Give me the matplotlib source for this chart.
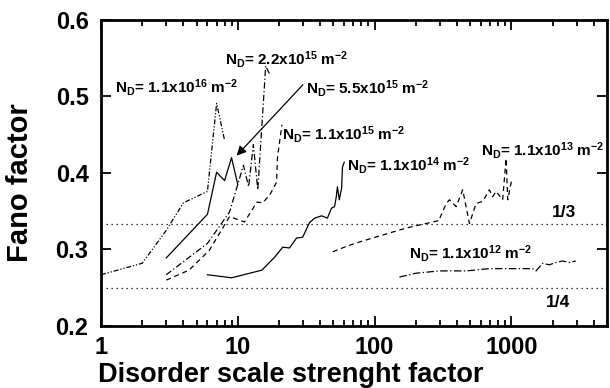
import numpy as np
import matplotlib
matplotlib.use('Agg')
from matplotlib import pyplot as plt

plt.rcParams['font.family'] = 'Liberation Sans'
plt.rcParams['font.weight'] = 'bold'
plt.rcParams['mathtext.fontset'] = 'custom'
plt.rcParams['mathtext.rm'] = 'Liberation Sans:bold'
plt.rcParams['mathtext.it'] = 'Liberation Sans:bold'
plt.rcParams['mathtext.bf'] = 'Liberation Sans:bold'

# N_D = 1.1e16
x16 = [1, 2, 3, 4, 6, 7, 8]
y16 = [0.267, 0.282, 0.325, 0.361, 0.376, 0.491, 0.443]
# N_D = 5.5e15
x55 = [3, 6, 7, 8, 9, 10]
y55 = [0.289, 0.346, 0.401, 0.39, 0.42, 0.385]
# N_D = 2.2e15
x22 = [3, 6, 8.7, 11, 12, 13, 14, 16, 17]
y22 = [0.267, 0.308, 0.349, 0.41, 0.382, 0.437, 0.378, 0.54, 0.53]
# N_D = 1.1e15
x15 = [3, 4.4, 6.2, 8.7, 11.2, 13.8, 15.2, 17.1, 19.2, 19.5, 21]
y15 = [0.26, 0.273, 0.299, 0.343, 0.336, 0.362, 0.361, 0.371, 0.388, 0.42, 0.463]
# N_D = 1.1e14
x14 = [6, 9, 15, 18.6, 21.3, 23.9, 26.9, 29.8, 33.4, 36.5, 41, 45.2, 48.4, 51,
       52.5, 53.5, 55.2, 57.4, 58.3, 60]
y14 = [0.267, 0.263, 0.273, 0.29, 0.303, 0.302, 0.315, 0.316, 0.335, 0.341, 0.344,
       0.341, 0.354, 0.356, 0.369, 0.382, 0.365, 0.38, 0.408, 0.414]
# N_D = 1.1e13
x13 = [49.5, 62, 78, 115, 170, 238, 298, 300, 334, 353, 395, 441, 494, 552, 618,
       691, 731, 773, 864, 915, 941, 1000]
y13 = [0.297, 0.304, 0.31, 0.319, 0.328, 0.334, 0.338, 0.341, 0.36, 0.365, 0.356,
       0.378, 0.334, 0.36, 0.363, 0.378, 0.369, 0.376, 0.365, 0.419, 0.365, 0.389]
# N_D = 1.1e12
x12 = [152, 201, 298, 467, 691, 1023, 1430, 1514, 1693, 1893, 2118, 2367, 2650, 2964]
y12 = [0.264, 0.269, 0.272, 0.272, 0.275, 0.275, 0.275, 0.272, 0.282, 0.28, 0.283,
       0.285, 0.283, 0.285]

fig = plt.figure(figsize=(6.1, 3.88), dpi=100)
ax = fig.add_axes([0.1656, 0.1598, 0.8294, 0.7887])

lw = 0.9
ax.plot(x16, y16, color='k', lw=lw, ls=(0, (4, 1.5, 1, 1.5, 1, 1.5)))
ax.plot(x55, y55, color='k', lw=lw, ls='-')
ax.plot(x22, y22, color='k', lw=lw, ls=(0, (5, 2, 1, 2)))
ax.plot(x15, y15, color='k', lw=lw, ls=(0, (4, 3)))
ax.plot(x14, y14, color='k', lw=lw, ls='-')
ax.plot(x13, y13, color='k', lw=lw, ls=(0, (4, 3)))
ax.plot(x12, y12, color='k', lw=lw, ls=(0, (6, 2, 1, 2)))

ax.axhline(1/3, color='k', lw=0.9, ls=(0, (1, 3)))
ax.axhline(1/4, color='k', lw=0.9, ls=(0, (1, 3)))

ax.set_xscale('log')
ax.set_xlim(1, 5000)
ax.set_ylim(0.2, 0.6)
ax.set_yticks([0.2, 0.3, 0.4, 0.5, 0.6])
ax.set_xticks([1, 10, 100, 1000])
ax.set_xticklabels(['1', '10', '100', '1000'])
ax.set_yticklabels(['0.2', '0.3', '0.4', '0.5', '0.6'])
ax.tick_params(which='both', direction='in', top=True, right=True, width=1.3)
ax.tick_params(which='major', length=7, labelsize=17)
ax.tick_params(axis='x', which='major', pad=7)
ax.tick_params(axis='y', which='major', pad=9)
ax.tick_params(which='minor', length=4)
ax.tick_params(axis='y', which='minor', left=False, right=False)
for s in ax.spines.values():
    s.set_linewidth(2)

ax.set_xlabel('Disorder scale strenght factor', fontsize=19.5, fontweight='bold')
ax.set_ylabel('Fano factor', fontsize=21, fontweight='bold')
ax.xaxis.set_label_coords(0.375, -0.118)
ax.yaxis.set_label_coords(-0.133, 0.467)

fs = 11
ax.text(1.27, 0.512, r'N$_\mathrm{D}$= 1.1x10$^{16}$ m$^{-2}$', fontsize=fs, va='center')
ax.text(8.1, 0.548, r'N$_\mathrm{D}$= 2.2x10$^{15}$ m$^{-2}$', fontsize=fs, va='center')
ax.text(31.5, 0.51, r'N$_\mathrm{D}$= 5.5x10$^{15}$ m$^{-2}$', fontsize=fs, va='center')
ax.text(20.9, 0.45, r'N$_\mathrm{D}$= 1.1x10$^{15}$ m$^{-2}$', fontsize=fs, va='center')
ax.text(62.8, 0.41, r'N$_\mathrm{D}$= 1.1x10$^{14}$ m$^{-2}$', fontsize=fs, va='center')
ax.text(605, 0.43, r'N$_\mathrm{D}$= 1.1x10$^{13}$ m$^{-2}$', fontsize=fs, va='center')
ax.text(180, 0.295, r'N$_\mathrm{D}$= 1.1x10$^{12}$ m$^{-2}$', fontsize=fs, va='center')
ax.text(1990, 0.349, '1/3', fontsize=12.5, va='center', fontweight='bold')
ax.text(1800, 0.231, '1/4', fontsize=12.5, va='center', fontweight='bold')

ax.annotate('', xy=(9.5, 0.42), xytext=(30.9, 0.518),
            arrowprops=dict(arrowstyle='-|>', color='k', lw=0.9, mutation_scale=14))

fig.savefig('out.png', dpi=100)
